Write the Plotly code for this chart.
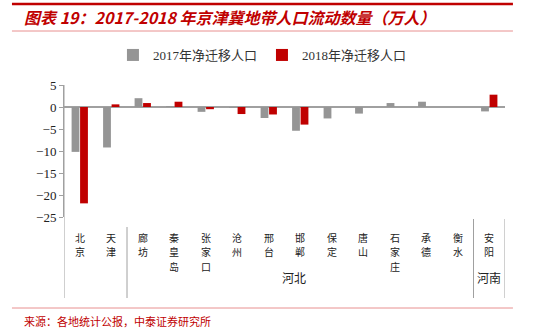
import plotly.graph_objects as go

cities = ["北京", "天津", "廊坊", "秦皇岛", "张家口", "沧州", "邢台", "邯郸",
          "保定", "唐山", "石家庄", "承德", "衡水", "安阳"]
v2017 = [-10.2, -9.2, 2.0, 0.1, -1.1, -0.2, -2.5, -5.4, -2.6, -1.5, 0.9, 1.2, 0.0, -1.0]
v2018 = [-21.9, 0.6, 0.9, 1.2, -0.5, -1.6, -1.7, -4.0, 0.0, 0.0, 0.0, 0.0, 0.0, 2.8]
name2017 = "2017年净迁移人口"
name2018 = "2018年净迁移人口"
groups = [("河北", 6.8), ("河南", 13.0)]
yticks = [5, 0, -5, -10, -15, -20, -25]

GRAY = "#959595"
RED = "#C00000"
LINE_RED = "#E89090"
PLOT_BOTTOM = 217
PLOT_H = 132


def py(pix):
    return (PLOT_BOTTOM - pix) / PLOT_H


x = list(range(len(cities)))

fig = go.Figure()
fig.add_bar(x=x, y=v2017, name=name2017, marker_color=GRAY, marker_line_width=0)
fig.add_bar(x=x, y=v2018, name=name2018, marker_color=RED, marker_line_width=0)

shapes = []
shapes.append(dict(type="line", xref="x", yref="paper", x0=-0.5, x1=-0.5, y0=1.0, y1=py(298),
                   line=dict(color="#A0A0A0", width=1)))
for sx, y0 in [(1.5, py(227)), (12.5, py(219)), (13.5, py(219))]:
    shapes.append(dict(type="line", xref="x", yref="paper", x0=sx, x1=sx, y0=y0, y1=py(298),
                       line=dict(color="#A0A0A0", width=1)))
shapes.append(dict(type="line", xref="paper", yref="paper", x0=-0.118, x1=1.018,
                   y0=py(4), y1=py(4), line=dict(color=RED, width=2.5)))
shapes.append(dict(type="line", xref="paper", yref="paper", x0=-0.118, x1=1.018,
                   y0=py(31), y1=py(31), line=dict(color=LINE_RED, width=1)))
shapes.append(dict(type="line", xref="paper", yref="paper", x0=-0.118, x1=1.018,
                   y0=py(308), y1=py(308), line=dict(color=LINE_RED, width=1)))

annotations = []
# vertical category labels, one character per line
for i, c in enumerate(cities):
    for j, ch in enumerate(c):
        annotations.append(dict(text=ch, x=i, xref="x", y=py(237 + 14.6 * j), yref="paper",
                                yanchor="middle", showarrow=False, borderpad=0,
                                font=dict(family="Noto Sans CJK SC", size=10, color="#222")))
for g, gx in groups:
    annotations.append(dict(text=g, x=gx, xref="x", y=py(288), yref="paper",
                            showarrow=False, font=dict(family="Noto Sans CJK SC", size=12, color="#222")))
annotations.append(dict(text="<b><i>图表 19：2017-2018 年京津冀地带人口流动数量（万人）</i></b>",
                        x=(22 - 64) / 441, xref="paper", xanchor="left",
                        y=py(17), yref="paper", yanchor="middle", showarrow=False,
                        font=dict(family="Noto Sans CJK SC", size=16, color=RED)))
annotations.append(dict(text="来源：各地统计公报，中泰证券研究所",
                        x=(22 - 64) / 441, xref="paper", xanchor="left",
                        y=py(321), yref="paper", yanchor="middle", showarrow=False,
                        font=dict(family="Noto Sans CJK SC", size=11, color=RED)))

fig.update_layout(
    width=538, height=333,
    margin=dict(l=64, r=33, t=85, b=116),
    paper_bgcolor="white", plot_bgcolor="white",
    barmode="group", bargap=0.46, bargroupgap=0.08,
    showlegend=True,
    legend=dict(orientation="h", x=0.45, xanchor="center", y=py(55), yanchor="middle",
                font=dict(family="Liberation Serif, Noto Sans CJK SC", size=13, color="#333"),
                itemwidth=30, tracegroupgap=0),
    shapes=shapes,
    annotations=annotations,
    xaxis=dict(tickmode="array", tickvals=x, ticktext=[""] * len(x), range=[-0.5, 13.5],
               showline=False, showgrid=False, zeroline=False, ticks=""),
    yaxis=dict(range=[-25, 5], tickvals=yticks, showgrid=False,
               zeroline=True, zerolinecolor="#A0A0A0", zerolinewidth=1.5,
               showline=True, linecolor="#A0A0A0", linewidth=1,
               ticks="outside", ticklen=4, tickcolor="#A0A0A0",
               tickfont=dict(family="Liberation Serif", size=13, color="#222")),
)

fig.write_html("out.html")
